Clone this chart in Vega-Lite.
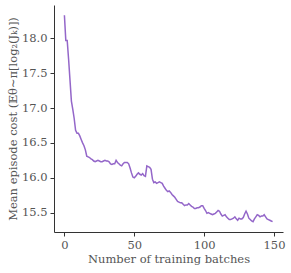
{
  "$schema": "https://vega.github.io/schema/vega-lite/v6.json",
  "autosize": {"type": "none"},
  "width": 229,
  "height": 227,
  "padding": {"left": 54, "top": 5, "right": 8, "bottom": 41},
  "background": "white",
  "config": {
    "view": {"stroke": null},
    "font": "DejaVu Serif",
    "axis": {
      "grid": false,
      "domainColor": "#333333",
      "domainWidth": 1,
      "tickColor": "#333333",
      "tickSize": 4,
      "labelColor": "#555555",
      "labelFont": "DejaVu Serif",
      "labelFontSize": 11.5,
      "titleColor": "#555555",
      "titleFont": "DejaVu Serif",
      "titleFontSize": 11.5,
      "titleFontWeight": "normal"
    }
  },
  "data": {
    "values": [
      {"batch": 0, "cost": 18.33}, {"batch": 1, "cost": 17.97}, {"batch": 2, "cost": 17.97},
      {"batch": 3, "cost": 17.7}, {"batch": 4, "cost": 17.4}, {"batch": 5, "cost": 17.1},
      {"batch": 6, "cost": 16.98}, {"batch": 7, "cost": 16.85}, {"batch": 8, "cost": 16.68},
      {"batch": 9, "cost": 16.64}, {"batch": 10, "cost": 16.64}, {"batch": 11, "cost": 16.6},
      {"batch": 12, "cost": 16.55}, {"batch": 13, "cost": 16.5}, {"batch": 14, "cost": 16.46},
      {"batch": 15, "cost": 16.4}, {"batch": 16, "cost": 16.31}, {"batch": 17, "cost": 16.3},
      {"batch": 18, "cost": 16.29}, {"batch": 19, "cost": 16.27}, {"batch": 20, "cost": 16.26},
      {"batch": 21, "cost": 16.24}, {"batch": 22, "cost": 16.23}, {"batch": 23, "cost": 16.24},
      {"batch": 24, "cost": 16.25}, {"batch": 25, "cost": 16.24}, {"batch": 26, "cost": 16.23},
      {"batch": 27, "cost": 16.23}, {"batch": 28, "cost": 16.24}, {"batch": 29, "cost": 16.25},
      {"batch": 30, "cost": 16.24}, {"batch": 31, "cost": 16.24}, {"batch": 32, "cost": 16.23},
      {"batch": 33, "cost": 16.2}, {"batch": 34, "cost": 16.19}, {"batch": 35, "cost": 16.2},
      {"batch": 36, "cost": 16.2}, {"batch": 37, "cost": 16.25}, {"batch": 38, "cost": 16.22},
      {"batch": 39, "cost": 16.2}, {"batch": 40, "cost": 16.18}, {"batch": 41, "cost": 16.17},
      {"batch": 42, "cost": 16.2}, {"batch": 43, "cost": 16.22}, {"batch": 44, "cost": 16.22},
      {"batch": 45, "cost": 16.22}, {"batch": 46, "cost": 16.2}, {"batch": 47, "cost": 16.14},
      {"batch": 48, "cost": 16.07}, {"batch": 49, "cost": 16.01}, {"batch": 50, "cost": 16.0},
      {"batch": 51, "cost": 16.02}, {"batch": 52, "cost": 16.05}, {"batch": 53, "cost": 16.07},
      {"batch": 54, "cost": 16.05}, {"batch": 55, "cost": 16.04}, {"batch": 56, "cost": 16.06},
      {"batch": 57, "cost": 16.03}, {"batch": 58, "cost": 16.02}, {"batch": 59, "cost": 16.17},
      {"batch": 60, "cost": 16.16}, {"batch": 61, "cost": 16.15}, {"batch": 62, "cost": 16.12},
      {"batch": 63, "cost": 15.98}, {"batch": 64, "cost": 15.93}, {"batch": 65, "cost": 15.94},
      {"batch": 66, "cost": 15.92}, {"batch": 67, "cost": 15.93}, {"batch": 68, "cost": 15.94},
      {"batch": 69, "cost": 15.93}, {"batch": 70, "cost": 15.92}, {"batch": 71, "cost": 15.88},
      {"batch": 72, "cost": 15.85}, {"batch": 73, "cost": 15.82}, {"batch": 74, "cost": 15.8},
      {"batch": 75, "cost": 15.81}, {"batch": 76, "cost": 15.79}, {"batch": 77, "cost": 15.76},
      {"batch": 78, "cost": 15.74}, {"batch": 79, "cost": 15.72}, {"batch": 80, "cost": 15.69},
      {"batch": 81, "cost": 15.66}, {"batch": 82, "cost": 15.65}, {"batch": 83, "cost": 15.64},
      {"batch": 84, "cost": 15.64}, {"batch": 85, "cost": 15.62}, {"batch": 86, "cost": 15.6},
      {"batch": 87, "cost": 15.61}, {"batch": 88, "cost": 15.61}, {"batch": 89, "cost": 15.63},
      {"batch": 90, "cost": 15.61}, {"batch": 91, "cost": 15.59}, {"batch": 92, "cost": 15.58},
      {"batch": 93, "cost": 15.56}, {"batch": 94, "cost": 15.56}, {"batch": 95, "cost": 15.57},
      {"batch": 96, "cost": 15.57}, {"batch": 97, "cost": 15.58}, {"batch": 98, "cost": 15.6},
      {"batch": 99, "cost": 15.6}, {"batch": 100, "cost": 15.56}, {"batch": 101, "cost": 15.53},
      {"batch": 102, "cost": 15.49}, {"batch": 103, "cost": 15.5}, {"batch": 104, "cost": 15.49},
      {"batch": 105, "cost": 15.48}, {"batch": 106, "cost": 15.47}, {"batch": 107, "cost": 15.48},
      {"batch": 108, "cost": 15.49}, {"batch": 109, "cost": 15.51}, {"batch": 110, "cost": 15.53},
      {"batch": 111, "cost": 15.52}, {"batch": 112, "cost": 15.48}, {"batch": 113, "cost": 15.45},
      {"batch": 114, "cost": 15.46}, {"batch": 115, "cost": 15.47}, {"batch": 116, "cost": 15.44},
      {"batch": 117, "cost": 15.42}, {"batch": 118, "cost": 15.4}, {"batch": 119, "cost": 15.4},
      {"batch": 120, "cost": 15.41}, {"batch": 121, "cost": 15.42}, {"batch": 122, "cost": 15.44},
      {"batch": 123, "cost": 15.41}, {"batch": 124, "cost": 15.39}, {"batch": 125, "cost": 15.42},
      {"batch": 126, "cost": 15.41}, {"batch": 127, "cost": 15.41}, {"batch": 128, "cost": 15.43},
      {"batch": 129, "cost": 15.48}, {"batch": 130, "cost": 15.52}, {"batch": 131, "cost": 15.48},
      {"batch": 132, "cost": 15.42}, {"batch": 133, "cost": 15.4}, {"batch": 134, "cost": 15.38},
      {"batch": 135, "cost": 15.37}, {"batch": 136, "cost": 15.41}, {"batch": 137, "cost": 15.44},
      {"batch": 138, "cost": 15.47}, {"batch": 139, "cost": 15.46}, {"batch": 140, "cost": 15.44},
      {"batch": 141, "cost": 15.45}, {"batch": 142, "cost": 15.45}, {"batch": 143, "cost": 15.47},
      {"batch": 144, "cost": 15.44}, {"batch": 145, "cost": 15.41}, {"batch": 146, "cost": 15.4},
      {"batch": 147, "cost": 15.39}, {"batch": 148, "cost": 15.38}, {"batch": 149, "cost": 15.37}
    ]
  },
  "mark": {"type": "line", "color": "#9467c9", "strokeWidth": 1.5},
  "encoding": {
    "x": {
      "field": "batch",
      "type": "quantitative",
      "scale": {"domain": [-7.45, 156.45], "nice": false, "zero": false},
      "axis": {"values": [0, 50, 100, 150], "title": "Number of training batches", "titlePadding": 3, "labelPadding": 3}
    },
    "y": {
      "field": "cost",
      "type": "quantitative",
      "scale": {"domain": [15.222, 18.478], "nice": false, "zero": false},
      "axis": {"values": [15.5, 16.0, 16.5, 17.0, 17.5, 18.0], "format": ".1f", "title": "Mean episode cost (𝔼θ∼π[log₂(Jₖ)])", "titlePadding": 3, "labelPadding": 3}
    }
  }
}
